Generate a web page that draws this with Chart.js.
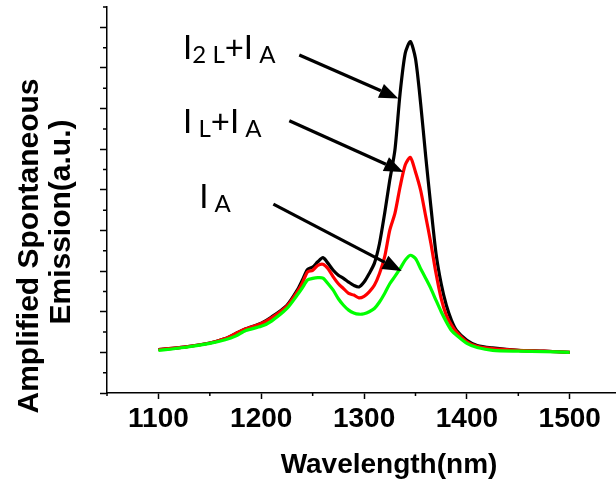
<!DOCTYPE html>
<html>
<head>
<meta charset="utf-8">
<script src="https://cdn.jsdelivr.net/npm/chart.js@4.4.0/dist/chart.umd.min.js"></script>
<style>
  html,body{margin:0;padding:0;background:#fff;}
  #wrap{width:616px;height:484px;overflow:hidden;}
</style>
</head>
<body>
<div id="wrap"><canvas id="c" width="616" height="484"></canvas></div>
<script>
// wavelength (nm)
const wavelength = [1100,1125,1150,1165,1175,1185,1200,1210,1225,1235,1240,1245,1250,1255,1260,1265,1270,1275,1280,1285,1290,1295,1300,1305,1310,1315,1320,1325,1330,1335,1340,1345,1350,1355,1360,1365,1370,1375,1380,1385,1390,1400,1410,1425,1450,1475,1500];
// I2L + IA (black)
const i2lPlusIA = [1.07,1.13,1.23,1.34,1.46,1.58,1.72,1.87,2.16,2.53,2.78,3.04,3.10,3.23,3.33,3.19,3.02,2.90,2.82,2.73,2.65,2.61,2.73,2.94,3.19,3.68,4.42,5.24,5.98,7.37,8.36,8.65,8.23,7.13,5.81,4.58,3.43,2.69,2.16,1.79,1.54,1.30,1.17,1.11,1.05,1.03,1.00];
// IL + IA (red)
const ilPlusIA = [1.07,1.13,1.23,1.34,1.46,1.58,1.71,1.85,2.14,2.49,2.71,2.98,3.02,3.14,3.17,3.06,2.86,2.69,2.57,2.45,2.41,2.34,2.38,2.49,2.65,2.94,3.35,4.01,4.42,5.07,5.61,5.80,5.44,4.99,4.34,3.68,2.94,2.32,1.91,1.67,1.50,1.26,1.15,1.09,1.05,1.03,1.00];
// IA (green)
const iA = [1.05,1.12,1.22,1.31,1.40,1.54,1.64,1.77,2.08,2.41,2.59,2.78,2.82,2.84,2.83,2.69,2.53,2.32,2.16,2.04,1.97,1.94,1.95,2.00,2.08,2.24,2.45,2.69,2.87,3.06,3.27,3.39,3.31,3.06,2.82,2.57,2.28,2.00,1.75,1.54,1.42,1.22,1.12,1.05,1.03,1.02,1.00];

const xTicks = [1100,1200,1300,1400,1500];
const xMinorTicks = [1050,1150,1250,1350,1450];
const yTicks = [0,1,2,3,4,5,6,7,8,9];
const yMinorTicks = [0.5,1.5,2.5,3.5,4.5,5.5,6.5,7.5,8.5,9.5];

// curve labels (anchor = left/baseline, data units); parts: [text, subscript?]
const curveLabels = [
  {x:1124, y:8.22, parts:[['I',0],['2 L',1],['+I',0],[' A',1]]},
  {x:1124, y:6.41, parts:[['I',0],[' L',1],['+I',0],[' A',1]]},
  {x:1139.6, y:4.55, parts:[['I',0],[' A',1]]}
];
const arrows = [
  {from:[1237,8.32], to:[1333.3,7.25]},
  {from:[1227.3,6.70], to:[1338.1,5.44]},
  {from:[1211.8,4.65], to:[1336.6,3.00]}
];

const pts = (ys)=>wavelength.map((w,i)=>({x:w, y:ys[i]}));

const overlay = {
  id:'overlay',
  afterDraw(chart){
    const {ctx, scales:{x, y}} = chart;
    ctx.save();
    ctx.strokeStyle = '#000'; ctx.lineWidth = 1.5;
    ctx.beginPath();
    xMinorTicks.forEach(v=>{ const px = x.getPixelForValue(v); ctx.moveTo(px, y.bottom); ctx.lineTo(px, y.bottom+3); });
    yMinorTicks.forEach(v=>{ const py = y.getPixelForValue(v); ctx.moveTo(x.left, py); ctx.lineTo(x.left-4, py); });
    ctx.stroke();

    // arrows
    ctx.fillStyle = '#000'; ctx.lineWidth = 3.2;
    arrows.forEach(a=>{
      const x0 = x.getPixelForValue(a.from[0]), y0 = y.getPixelForValue(a.from[1]);
      const x1 = x.getPixelForValue(a.to[0]), y1 = y.getPixelForValue(a.to[1]);
      const ang = Math.atan2(y1-y0, x1-x0), L = 19, W = 7.5;
      const bx = x1 - L*Math.cos(ang), by = y1 - L*Math.sin(ang);
      ctx.beginPath(); ctx.moveTo(x0, y0); ctx.lineTo(bx, by); ctx.stroke();
      ctx.beginPath();
      ctx.moveTo(x1, y1);
      ctx.lineTo(bx + W*Math.sin(ang), by - W*Math.cos(ang));
      ctx.lineTo(bx - W*Math.sin(ang), by + W*Math.cos(ang));
      ctx.closePath(); ctx.fill();
    });

    // curve labels
    ctx.textBaseline = 'alphabetic'; ctx.textAlign = 'left';
    curveLabels.forEach(l=>{
      let px = x.getPixelForValue(l.x);
      const py = y.getPixelForValue(l.y);
      l.parts.forEach(([t, sub])=>{
        ctx.font = sub ? '24px Lato' : '33px Lato';
        ctx.fillText(t, px, sub ? py + 4 : py);
        px += ctx.measureText(t).width;
      });
    });

    // axis titles
    ctx.font = 'bold 28px "Liberation Sans", Arial';
    ctx.textAlign = 'center';
    ctx.fillText('Wavelength(nm)', 389, 473);
    ctx.font = 'bold 30px "Liberation Sans", Arial';
    ctx.save(); ctx.translate(38, 246); ctx.rotate(-Math.PI/2); ctx.fillText('Amplified Spontaneous', 0, 0); ctx.restore();
    ctx.save(); ctx.translate(70, 222); ctx.rotate(-Math.PI/2); ctx.fillText('Emission(a.u.)', 0, 0); ctx.restore();
    ctx.restore();
  }
};

new Chart(document.getElementById('c'), {
  type:'line',
  data:{ datasets:[
    { label:'IA', data:pts(iA), borderColor:'#00ff00', borderWidth:3.2, pointRadius:0, tension:0.25 },
    { label:'IL+IA', data:pts(ilPlusIA), borderColor:'#ff0000', borderWidth:3.2, pointRadius:0, tension:0.25 },
    { label:'I2L+IA', data:pts(i2lPlusIA), borderColor:'#000000', borderWidth:3.2, pointRadius:0, tension:0.25 }
  ]},
  options:{
    responsive:false, animation:false, devicePixelRatio:1,
    layout:{ padding:{ top:7, left:0, right:0, bottom:0 } },
    plugins:{ legend:{ display:false }, tooltip:{ enabled:false } },
    scales:{
      x:{ type:'linear', min:1050, max:1545,
        afterBuildTicks:(s)=>{ s.ticks = xTicks.map(v=>({value:v})); },
        afterFit:(s)=>{ s.height = 91; },
        grid:{ drawOnChartArea:false, tickLength:6, tickWidth:1.5, tickColor:'#000' },
        border:{ color:'#000', width:1.5 },
        ticks:{ padding:3, color:'#000', font:{ family:'"Liberation Sans", Arial', size:28, weight:'bold' }, callback:(v)=>String(v), maxRotation:0, autoSkip:false }
      },
      y:{ type:'linear', min:0, max:9.5,
        afterBuildTicks:(s)=>{ s.ticks = yTicks.map(v=>({value:v})); },
        afterFit:(s)=>{ s.width = 107; },
        grid:{ drawOnChartArea:false, tickLength:7, tickWidth:1.5, tickColor:'#000' },
        border:{ color:'#000', width:1.5 },
        ticks:{ display:false }
      }
    }
  },
  plugins:[overlay]
});
</script>
</body>
</html>
